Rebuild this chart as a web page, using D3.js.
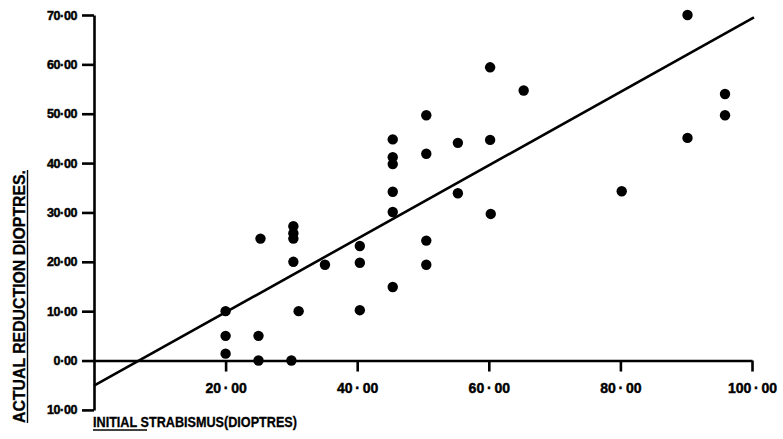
<!DOCTYPE html>
<html>
<head>
<meta charset="utf-8">
<script src="https://cdn.jsdelivr.net/npm/d3@7/dist/d3.min.js"></script>
<style>
  html, body { margin: 0; padding: 0; background: #fff; }
  svg { display: block; }
  text { font-family: "Liberation Sans", Arial, Helvetica, sans-serif; font-weight: bold; fill: #000; }
</style>
</head>
<body>
<svg id="chart" width="783" height="439"></svg>
<script>
// Initial strabismus (dioptres) vs actual reduction (dioptres)
const initialStrabismus = [
  20, 20, 20, 25, 25, 25.3, 30, 30.3, 30.3, 30.3, 30.3, 31.1, 35.1,
  40.4, 40.4, 40.4, 45.4, 45.4, 45.4, 45.4, 45.4, 45.4,
  50.5, 50.5, 50.5, 50.5, 55.3, 55.3, 60.2, 60.2, 60.3, 65.3,
  80.2, 90.2, 90.2, 95.9, 95.9
];
const actualReduction = [
  10, 5, 1.4, 0, 5, 24.7, 0, 27.2, 25.8, 24.7, 20, 10, 19.4,
  23.2, 19.8, 10.2, 44.8, 41.2, 39.8, 34.2, 30.1, 14.9,
  49.7, 41.9, 24.3, 19.4, 44.1, 33.9, 59.4, 44.7, 29.7, 54.7,
  34.3, 70, 45.1, 54, 49.7
];

// Fitted regression line end points
const fitX = [0, 100.3];
const fitY = [-5.1, 69.5];

// Axis ticks and their printed labels
const xTicks = [20, 40, 60, 80, 100];
const xTickLabels = ["20\u2009·\u200900", "40\u2009·\u200900", "60\u2009·\u200900", "80\u2009·\u200900", "100\u2009·\u200900"];
const yTicks = [70, 60, 50, 40, 30, 20, 10, 0, -10];
const yTickLabels = ["70·00", "60·00", "50·00", "40·00", "30·00", "20·00", "10·00", "0·00", "10·00"];

const xTitle = "INITIAL STRABISMUS(DIOPTRES)";
const yTitle = "ACTUAL REDUCTION DIOPTRES.";

const svg = d3.select("#chart");

const x = d3.scaleLinear().domain([0, 100]).range([94, 752]);
const y = d3.scaleLinear().domain([-10, 70]).range([409.9, 15]);

// Y axis (left, full height)
const yAxis = d3.axisLeft(y)
  .tickValues(yTicks)
  .tickFormat((d, i) => yTickLabels[i])
  .tickSize(12)
  .tickSizeOuter(0)
  .tickPadding(5);

const gy = svg.append("g")
  .attr("transform", `translate(${x(0)},0)`)
  .call(yAxis);
gy.select(".domain").attr("stroke", "#000").attr("stroke-width", 2.6);
gy.selectAll(".tick line").attr("stroke", "#000").attr("stroke-width", 2.6);
gy.selectAll(".tick text")
  .style("font-size", "12.5px")
  .style("letter-spacing", "-0.4px")
  .attr("fill", "#000")
  .attr("stroke", "#000")
  .attr("stroke-width", 0.45);

// X axis drawn along the zero line
const xAxis = d3.axisBottom(x)
  .tickValues(xTicks)
  .tickFormat((d, i) => xTickLabels[i])
  .tickSize(11)
  .tickSizeOuter(0)
  .tickPadding(12);

const gx = svg.append("g")
  .attr("transform", `translate(0,${y(0)})`)
  .call(xAxis);
gx.select(".domain").attr("stroke", "#000").attr("stroke-width", 2.6);
gx.selectAll(".tick line").attr("stroke", "#000").attr("stroke-width", 2.6);
gx.selectAll(".tick text")
  .style("font-size", "14px")
  .attr("fill", "#000")
  .attr("stroke", "#000")
  .attr("stroke-width", 0.45);

// Regression line
const fitLine = d3.line().x(d => x(d[0])).y(d => y(d[1]));
svg.append("path")
  .datum(d3.zip(fitX, fitY))
  .attr("d", fitLine)
  .attr("fill", "none")
  .attr("stroke", "#000")
  .attr("stroke-width", 2.6);

// Data points
svg.append("g")
  .selectAll("circle")
  .data(d3.zip(initialStrabismus, actualReduction))
  .join("circle")
  .attr("cx", d => x(d[0]))
  .attr("cy", d => y(d[1]))
  .attr("r", 5.2)
  .attr("fill", "#000");

// X axis title, first word underlined
svg.append("text")
  .attr("x", 93)
  .attr("y", 427)
  .style("font-size", "15px")
  .attr("textLength", 204)
  .attr("lengthAdjust", "spacingAndGlyphs")
  .attr("stroke", "#000")
  .attr("stroke-width", 0.3)
  .text(xTitle);
svg.append("line")
  .attr("x1", 93).attr("x2", 147)
  .attr("y1", 430).attr("y2", 430)
  .attr("stroke", "#000").attr("stroke-width", 1.4);

// Y axis title, underlined
svg.append("text")
  .attr("transform", "translate(25,423) rotate(-90)")
  .attr("x", 0).attr("y", 0)
  .style("font-size", "16px")
  .attr("textLength", 253)
  .attr("lengthAdjust", "spacingAndGlyphs")
  .attr("stroke", "#000")
  .attr("stroke-width", 0.3)
  .text(yTitle);
svg.append("line")
  .attr("x1", 27.5).attr("x2", 27.5)
  .attr("y1", 423).attr("y2", 170)
  .attr("stroke", "#000").attr("stroke-width", 1.4);
</script>
</body>
</html>
